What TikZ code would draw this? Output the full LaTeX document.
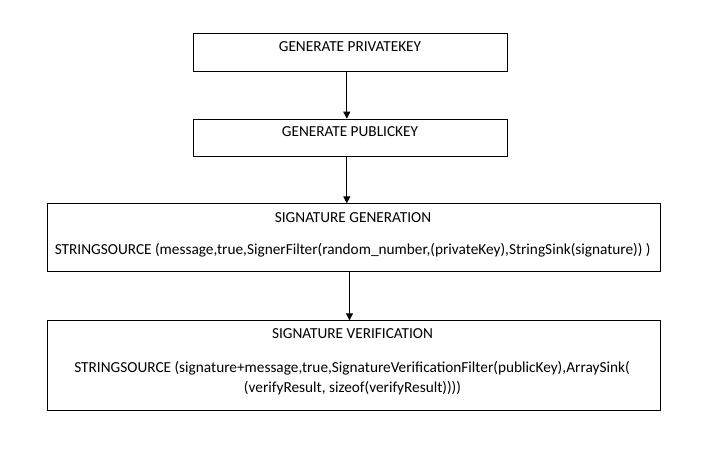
\documentclass[tikz,border=0pt]{standalone}
\usepackage{fontspec}
\setmainfont{Carlito}
\usetikzlibrary{arrows.meta}
\begin{document}
\begin{tikzpicture}[x=1pt,y=-1pt,
  box/.style={draw,line width=1pt,rectangle,inner sep=0pt,anchor=north west},
  txt/.style={font=\fontsize{15.3}{18}\selectfont,inner sep=0pt,anchor=center},
  arr/.style={line width=1pt,-{Triangle[length=7pt,width=7pt]}}]
\useasboundingbox (0,0) rectangle (721,453);
\node[box,minimum width=314pt,minimum height=38pt] (b1) at (193.3,33.3) {};
\node[box,minimum width=314pt,minimum height=37.3pt] (b2) at (193.3,118.7) {};
\node[box,minimum width=613pt,minimum height=68pt] (b3) at (47.3,203.3) {};
\node[box,minimum width=613pt,minimum height=89.7pt] (b4) at (47.3,320.3) {};
\node[txt] (t1) at (350,46.7) {GENERATE PRIVATEKEY};
\node[txt] (t2) at (350,131.7) {GENERATE PUBLICKEY};
\node[txt] (t3) at (353,217.7) {SIGNATURE GENERATION};
\node[txt] (t4) at (352.7,250) {STRINGSOURCE (message,true,SignerFilter(random\_number,(privateKey),StringSink(signature)) )};
\node[txt] (t5) at (352.5,333.3) {SIGNATURE VERIFICATION};
\node[txt] (t6) at (352,368.3) {STRINGSOURCE (signature+message,true,SignatureVerificationFilter(publicKey),ArraySink(};
\node[txt] (t7) at (352.5,388.3) {(verifyResult, sizeof(verifyResult))))};
\draw[arr] ([xshift=-4pt]b1.south) -- ([xshift=-4pt]b2.north);
\draw[arr] ([xshift=-4pt]b2.south) -- ([xshift=-4pt]b3.north -| b2.south);
\draw[arr] ([xshift=-4.8pt]b3.south) -- ([xshift=-4.8pt]b4.north);
\end{tikzpicture}
\end{document}
